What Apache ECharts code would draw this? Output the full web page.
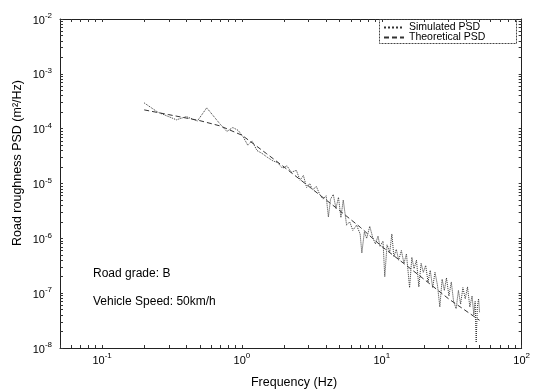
<!DOCTYPE html>
<html><head><meta charset="utf-8">
<script src="https://cdn.jsdelivr.net/npm/echarts@6/dist/echarts.min.js"></script>
<style>html,body{margin:0;padding:0;background:#fff}#c{width:533px;height:392px}</style>
</head><body><div id="c"></div>
<script>
// Data
const simFreq = [0.20,0.25,0.34,0.40,0.48,0.56,0.70,0.78,0.86,0.94,1.02,1.10,1.18,1.28,1.40,1.52,1.66,1.80,1.95,2.10,2.25,2.45,2.60,2.75,2.90,3.05,3.20,3.40,3.60,3.80,4.00,4.15,4.30,4.50,4.70,4.90,5.10,5.30,5.60,5.90,6.20,6.60,7.00,7.20,7.50,7.80,8.20,8.60,9.00,9.40,9.70,10.2,10.5,10.9,11.4,11.8,12.2,12.7,13.2,13.8,14.4,15.0,15.8,16.4,17.0,17.7,18.4,19.1,19.8,20.6,21.4,22.2,23.1,24.0,25.0,26.0,27.0,28.0,29.0,30.2,31.4,32.6,34.0,35.3,36.6,38.0,39.5,41.0,42.6,44.2,45.5,46.5,47.3,48.2,49.2,50.0];
const simPSD = [2.95e-4,2.0e-4,1.45e-4,1.66e-4,1.38e-4,2.4e-4,1.2e-4,8.9e-5,1.05e-4,9.3e-5,7.1e-5,5.0e-5,6.0e-5,4.0e-5,3.5e-5,3.0e-5,2.6e-5,2.4e-5,1.9e-5,2.1e-5,1.6e-5,1.74e-5,1.15e-5,1.4e-5,8.5e-6,1.0e-5,7.6e-6,8.9e-6,6.3e-6,5.2e-6,6.0e-6,2.45e-6,5.2e-6,6.3e-6,3.5e-6,5.6e-6,2.4e-6,5.0e-6,1.74e-6,2.0e-6,1.4e-6,1.74e-6,1.2e-6,5.4e-7,1.3e-6,1.0e-6,1.66e-6,1.05e-6,7.9e-7,1.1e-6,7.1e-7,8.9e-7,2.0e-7,7.6e-7,5.6e-7,1.2e-6,4.6e-7,6.3e-7,4.0e-7,6.0e-7,3.5e-7,5.2e-7,1.26e-7,4.5e-7,2.8e-7,4.0e-7,1.3e-7,3.5e-7,2.4e-7,3.2e-7,1.6e-7,2.6e-7,1.26e-7,2.4e-7,1.4e-7,5.6e-8,1.8e-7,1.12e-7,1.9e-7,8.9e-8,1.6e-7,7.1e-8,5.2e-8,1.12e-7,6.3e-8,1.26e-7,7.9e-8,1.3e-7,5.6e-8,8.9e-8,4.0e-8,7.1e-8,1.26e-8,5.6e-8,7.9e-8,4.5e-8];
const theoFreq = [0.20,0.30,0.50,0.70,1.0,1.5,2.0,3.0,5.0,7.0,10,15,20,30,50];
const theoPSD = [2.2e-4,1.8e-4,1.4e-4,1.12e-4,7.6e-5,3.5e-5,2.0e-5,8.9e-6,3.2e-6,1.6e-6,7.1e-7,3.2e-7,1.8e-7,7.9e-8,3.2e-8];
const xTickLabels = ['10^-1','10^0','10^1','10^2'];
const yTickLabels = ['10^-8','10^-7','10^-6','10^-5','10^-4','10^-3','10^-2'];
const seriesNames = ['Simulated PSD','Theoretical PSD'];
const annotations = ['Road grade: B','Vehicle Speed: 50km/h'];
const xTitle = 'Frequency (Hz)';
const yTitle = 'Road roughness PSD (m\u00B2/Hz)';

const FONT = 'Liberation Sans, Arial, sans-serif';
function minorVals(lo, hi){const out=[];for(let e=lo;e<hi;e++){for(let k=1;k<10;k++){out.push(k*Math.pow(10,e));}}out.push(Math.pow(10,hi));return out;}
function supFmt(v){const e=Math.round(Math.log10(v));return '{b|10}{s|'+e+'}';}
const rich = {b:{fontSize:11,fontFamily:FONT,color:'#000',verticalAlign:'bottom'},s:{fontSize:8,fontFamily:FONT,color:'#000',verticalAlign:'top',padding:[0,0,6,0]}};
const xMinor = minorVals(-2,2).filter(v=>v>=0.05);
const yMinor = minorVals(-8,-2);

const axisLine = {show:true,lineStyle:{color:'#222',width:1}};
const chart = echarts.init(document.getElementById('c'));
chart.setOption({
  animation:false,
  backgroundColor:'#fff',
  grid:{left:60,right:11,top:19,bottom:44},
  xAxis:[
    {type:'log',min:0.05,max:100,axisLine,splitLine:{show:false},
     axisTick:{inside:true,length:3,lineStyle:{color:'#333'},customValues:xMinor},
     axisLabel:{formatter:supFmt,rich,margin:4,customValues:[0.1,1,10,100]}},
    {type:'log',min:0.05,max:100,position:'top',axisLine,splitLine:{show:false},
     axisTick:{inside:true,length:3,lineStyle:{color:'#333'},customValues:xMinor},axisLabel:{show:false}}
  ],
  yAxis:[
    {type:'log',min:1e-8,max:1e-2,axisLine,splitLine:{show:false},
     axisTick:{inside:true,length:3,lineStyle:{color:'#333'},customValues:yMinor},
     axisLabel:{formatter:supFmt,rich,margin:8,customValues:[1e-8,1e-7,1e-6,1e-5,1e-4,1e-3,1e-2]}},
    {type:'log',min:1e-8,max:1e-2,position:'right',axisLine,splitLine:{show:false},
     axisTick:{inside:true,length:3,lineStyle:{color:'#333'},customValues:yMinor},axisLabel:{show:false}}
  ],
  legend:{orient:'vertical',left:383,top:22,padding:0,itemWidth:20,itemHeight:9,itemGap:-1,
    itemStyle:{opacity:0},
    textStyle:{fontSize:10.5,fontFamily:FONT,color:'#000'},data:seriesNames},
  series:[
    {name:seriesNames[0],type:'line',showSymbol:false,symbol:'none',
     itemStyle:{color:'#333'},
     lineStyle:{color:'#333',width:1,type:'dotted'},
     data:simFreq.map((f,i)=>[f,simPSD[i]])},
    {name:seriesNames[1],type:'line',showSymbol:false,symbol:'none',
     itemStyle:{color:'#333'},
     lineStyle:{color:'#333',width:1,type:[5,3]},
     data:theoFreq.map((f,i)=>[f,theoPSD[i]])}
  ],
  graphic:[
    {type:'rect',shape:{x:379.5,y:19.5,width:137,height:24},style:{fill:'none',stroke:'#444',lineWidth:1,lineDash:[2,1]},z:10},
    {type:'text',x:93,y:274,style:{text:annotations[0],font:'12px '+FONT,fill:'#000',textVerticalAlign:'middle'}},
    {type:'text',x:93,y:302,style:{text:annotations[1],font:'12px '+FONT,fill:'#000',textVerticalAlign:'middle'}},
    {type:'text',x:294,y:383,style:{text:xTitle,font:'12.5px '+FONT,fill:'#000',textAlign:'center',textVerticalAlign:'middle'}},
    {type:'text',x:18,y:163,rotation:Math.PI/2,style:{text:yTitle,font:'12.5px '+FONT,fill:'#000',textAlign:'center',textVerticalAlign:'middle'}}
  ]
});
</script></body></html>
